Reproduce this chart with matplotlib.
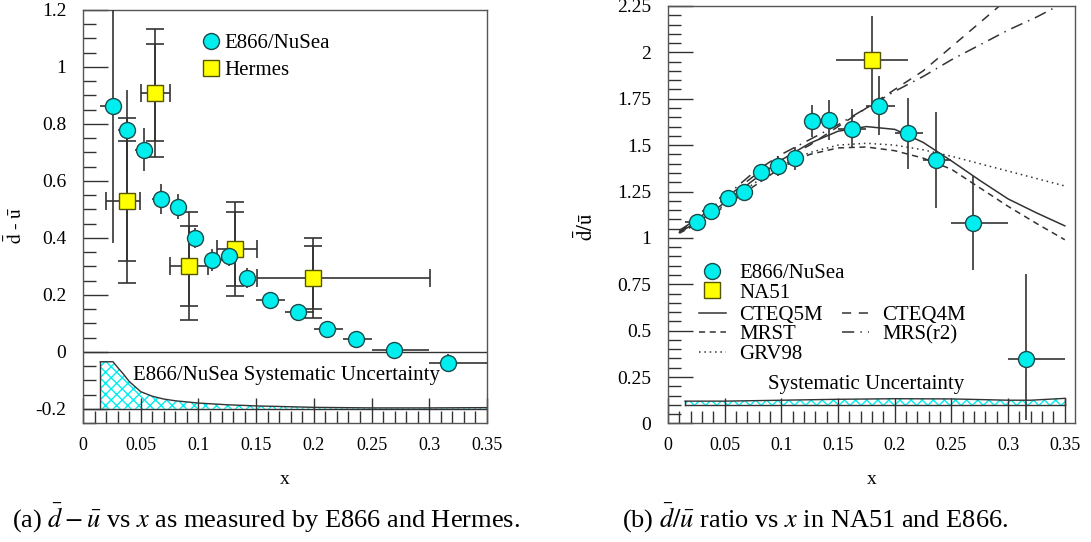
import matplotlib
matplotlib.use("Agg")
import matplotlib.pyplot as plt
from matplotlib.lines import Line2D
from matplotlib.ticker import MultipleLocator, FuncFormatter
import numpy as np

plt.rcParams['font.family'] = ['Liberation Serif', 'DejaVu Serif']
plt.rcParams['mathtext.fontset'] = 'stix'

# E866/NuSea x bins
x_e866 = [0.0257, 0.0378, 0.0525, 0.0673, 0.0821, 0.0971, 0.1119, 0.1268,
          0.1421, 0.1619, 0.1865, 0.2115, 0.2368, 0.2692, 0.3162]
x_e866_lo = [0.015, 0.030, 0.045, 0.060, 0.075, 0.090, 0.105, 0.120,
             0.135, 0.150, 0.175, 0.200, 0.225, 0.250, 0.300]
x_e866_hi = [0.030, 0.045, 0.060, 0.075, 0.090, 0.105, 0.120, 0.135,
             0.150, 0.175, 0.200, 0.225, 0.250, 0.300, 0.350]

# (a) dbar - ubar
dmu = [0.863, 0.779, 0.709, 0.536, 0.510, 0.399, 0.323, 0.337,
       0.260, 0.181, 0.141, 0.081, 0.045, 0.006, -0.039]
dmu_err = [0.48, 0.14, 0.076, 0.053, 0.044, 0.035, 0.038, 0.035,
           0.035, 0.02, 0.02, 0.015, 0.015, 0.015, 0.033]

x_hermes = [0.0381, 0.0622, 0.0920, 0.1317, 0.1990]
x_hermes_lo = [0.0203, 0.0506, 0.0752, 0.1158, 0.1506]
x_hermes_hi = [0.0490, 0.0752, 0.1085, 0.1506, 0.3007]
hermes = [0.530, 0.910, 0.301, 0.361, 0.260]
hermes_stat = [0.21, 0.17, 0.14, 0.13, 0.11]
hermes_tot = [0.29, 0.225, 0.19, 0.165, 0.14]

sys_a_x = [0.015, 0.026, 0.030, 0.035, 0.040, 0.050, 0.060, 0.070, 0.080,
           0.100, 0.125, 0.150, 0.200, 0.250, 0.300, 0.350]
sys_a_top = [-0.035, -0.035, -0.055, -0.078, -0.104, -0.140, -0.156, -0.166,
             -0.172, -0.180, -0.186, -0.190, -0.195, -0.197, -0.197, -0.196]

# (b) dbar / ubar
ratio = [1.087, 1.144, 1.216, 1.248, 1.356, 1.387, 1.428, 1.631,
         1.635, 1.588, 1.712, 1.563, 1.419, 1.081, 0.349]
ratio_err_lo = [0.041, 0.045, 0.040, 0.045, 0.041, 0.056, 0.063, 0.085,
                0.11, 0.105, 0.16, 0.19, 0.26, 0.255, 0.33]
ratio_err_hi = [0.041, 0.045, 0.040, 0.045, 0.041, 0.056, 0.063, 0.085,
                0.11, 0.105, 0.16, 0.19, 0.26, 0.255, 0.455]

x_na51 = [0.180]
x_na51_lo = [0.148]
x_na51_hi = [0.212]
na51 = [1.958]
na51_err = [0.24]

x_pdf = [0.010, 0.030, 0.050, 0.075, 0.100, 0.125, 0.150, 0.175, 0.200,
         0.225, 0.250, 0.275, 0.300, 0.325, 0.350]
cteq5m = [1.030, 1.100, 1.190, 1.310, 1.420, 1.510, 1.575, 1.600, 1.585,
          1.515, 1.415, 1.310, 1.210, 1.135, 1.065]
cteq4m = [1.035, 1.110, 1.210, 1.330, 1.420, 1.500, 1.600, 1.700, 1.800,
          1.900, 2.030, 2.160, 2.290, 2.450, 2.620]
mrst = [1.025, 1.090, 1.170, 1.275, 1.380, 1.450, 1.485, 1.490, 1.470,
        1.430, 1.370, 1.270, 1.170, 1.078, 0.990]
mrs_r2 = [1.040, 1.120, 1.220, 1.350, 1.450, 1.530, 1.610, 1.700, 1.790,
          1.870, 1.960, 2.040, 2.120, 2.190, 2.270]
grv98 = [1.030, 1.090, 1.180, 1.290, 1.390, 1.460, 1.500, 1.510, 1.500,
         1.475, 1.440, 1.400, 1.360, 1.320, 1.280]

sys_b_x = [0.015, 0.050, 0.100, 0.150, 0.200, 0.250, 0.300, 0.320, 0.350]
sys_b_top = [0.120, 0.120, 0.125, 0.130, 0.133, 0.132, 0.125, 0.125, 0.135]
sys_b_base = 0.10

cyan = '#00EEEE'
ink = '#333333'


def style_axes(ax, ymajor, yminor):
    ax.xaxis.set_major_locator(MultipleLocator(0.05))
    ax.xaxis.set_minor_locator(MultipleLocator(0.01))
    ax.yaxis.set_major_locator(MultipleLocator(ymajor))
    ax.yaxis.set_minor_locator(MultipleLocator(yminor))
    fmt = FuncFormatter(lambda v, p: '%g' % round(v, 3))
    ax.xaxis.set_major_formatter(fmt)
    ax.yaxis.set_major_formatter(fmt)
    ax.tick_params(which='both', direction='in', top=False, right=False,
                   color=ink, width=1)
    ax.tick_params(which='major', length=18)
    ax.tick_params(which='minor', length=9)
    ax.tick_params(axis='x', labelsize=13, pad=10)
    ax.tick_params(axis='y', labelsize=14, pad=12)
    for s in ax.spines.values():
        s.set_color('#555555')
        s.set_linewidth(1)


fig = plt.figure(figsize=(10.91, 5.42), dpi=100)

# ---------------- (a) ----------------
axa = fig.add_axes([83 / 1091, 1 - 423 / 542, 404 / 1091, 413 / 542])
axa.set_xlim(0, 0.35)
axa.set_ylim(-0.25, 1.2)
style_axes(axa, 0.2, 0.05)

axa.axhline(0, color=ink, lw=1)
axa.axhline(-0.2, color=ink, lw=1)
axa.fill_between(sys_a_x, -0.2, sys_a_top, facecolor='none', edgecolor=cyan,
                 hatch='xxx', linewidth=0)
axa.plot(sys_a_x, sys_a_top, color=ink, lw=1)
axa.plot([sys_a_x[0], sys_a_x[0]], [-0.2, sys_a_top[0]], color=ink, lw=1)
axa.text(0.043, -0.083, 'E866/NuSea Systematic Uncertainty', fontsize=15,
         va='center', ha='left')

xe_a = [np.subtract(x_e866, x_e866_lo), np.subtract(x_e866_hi, x_e866)]
xe_h = [np.subtract(x_hermes, x_hermes_lo), np.subtract(x_hermes_hi, x_hermes)]

axa.errorbar(x_hermes, hermes, yerr=hermes_tot, fmt='none', ecolor=ink,
             elinewidth=1.2, capsize=6.5, capthick=1.2, zorder=3)
axa.errorbar(x_hermes, hermes, yerr=hermes_stat, xerr=xe_h, fmt='none',
             ecolor=ink, elinewidth=1.2, capsize=6.5, capthick=1.2, zorder=3)
axa.errorbar(x_e866, dmu, yerr=dmu_err, xerr=xe_a, fmt='none', ecolor=ink,
             elinewidth=1.2, capsize=0, zorder=3)
axa.plot(x_hermes, hermes, 's', ms=11, mfc='#FFFF00', mec='#555500',
         mew=1, zorder=4)
axa.plot(x_e866, dmu, 'o', ms=11.5, mfc=cyan, mec='#1a4a4a', mew=1,
         zorder=5)

h_e866 = Line2D([], [], ls='none', marker='o', ms=11.5, mfc=cyan,
                mec='#1a4a4a', mew=1)
h_herm = Line2D([], [], ls='none', marker='s', ms=11, mfc='#FFFF00',
                mec='#555500', mew=1)
axa.legend([h_e866, h_herm], ['E866/NuSea', 'Hermes'], loc='upper left',
           bbox_to_anchor=(0.27, 0.968), frameon=False, fontsize=15,
           handlelength=0.8, handletextpad=0.25, labelspacing=0.35,
           borderpad=0)

axa.set_ylabel(r'$\mathrm{\bar{d}}$ - $\mathrm{\bar{u}}$', fontsize=14)
axa.yaxis.set_label_coords(-0.14, 0.48)
axa.set_xlabel('x', fontsize=14, labelpad=12)

# ---------------- (b) ----------------
axb = fig.add_axes([668 / 1091, 1 - 423.4 / 542, 407 / 1091, 417.4 / 542])
axb.set_xlim(0, 0.359)
axb.set_ylim(0, 2.25)
style_axes(axb, 0.25, 0.05)

axb.fill_between(sys_b_x, sys_b_base, sys_b_top, facecolor='none',
                 edgecolor=cyan, hatch='xxx', linewidth=0)
axb.plot(sys_b_x, sys_b_top, color=ink, lw=1)
axb.plot([sys_b_x[0], sys_b_x[-1]], [sys_b_base, sys_b_base], color=ink, lw=1)
axb.plot([sys_b_x[0], sys_b_x[0]], [sys_b_base, sys_b_top[0]], color=ink, lw=1)
axb.plot([sys_b_x[-1], sys_b_x[-1]], [sys_b_base, sys_b_top[-1]], color=ink, lw=1)
axb.text(0.1745, 0.21, 'Systematic Uncertainty', fontsize=15,
         va='center', ha='center')

styles = {
    'CTEQ5M': ('-', cteq5m),
    'CTEQ4M': ((0, (6, 5)), cteq4m),
    'MRST': ((0, (4, 3)), mrst),
    'MRS(r2)': ((0, (8, 4, 1, 4)), mrs_r2),
    'GRV98': ((0, (1, 2.5)), grv98),
}
curve_handles = {}
for name, (ls, vals) in styles.items():
    ln, = axb.plot(x_pdf, vals, ls=ls, color=ink, lw=1.1, zorder=2)
    curve_handles[name] = ln

xe_b = [np.subtract(x_e866, x_e866_lo), np.subtract(x_e866_hi, x_e866)]
axb.errorbar(x_na51, na51, yerr=na51_err,
             xerr=[np.subtract(x_na51, x_na51_lo), np.subtract(x_na51_hi, x_na51)],
             fmt='none', ecolor=ink, elinewidth=1.2, capsize=0, zorder=3)
axb.errorbar(x_e866, ratio, yerr=[ratio_err_lo, ratio_err_hi], xerr=xe_b,
             fmt='none', ecolor=ink, elinewidth=1.2, capsize=0, zorder=3)
axb.plot(x_na51, na51, 's', ms=11, mfc='#FFFF00', mec='#555500', mew=1,
         zorder=4)
axb.plot(x_e866, ratio, 'o', ms=11.5, mfc=cyan, mec='#1a4a4a', mew=1,
         zorder=5)

h_na51 = Line2D([], [], ls='none', marker='s', ms=11, mfc='#FFFF00',
                mec='#555500', mew=1)
leg1 = axb.legend([h_e866, h_na51], ['E866/NuSea', 'NA51'], loc='upper left',
                  bbox_to_anchor=(0.05, 0.408), frameon=False, fontsize=15,
                  handlelength=1.3, handletextpad=0.65, labelspacing=0.0,
                  borderpad=0)
axb.add_artist(leg1)
order = ['CTEQ5M', 'MRST', 'GRV98', 'CTEQ4M', 'MRS(r2)']
axb.legend([curve_handles[k] for k in order], order, loc='upper left',
           bbox_to_anchor=(0.05, 0.308), frameon=False, fontsize=15, ncol=2,
           handlelength=1.3, handletextpad=0.65, labelspacing=0.0,
           columnspacing=0.9, borderpad=0)

axb.set_ylabel(r'$\mathrm{\bar{d}/\bar{u}}$', fontsize=15)
axb.yaxis.set_label_coords(-0.172, 0.47)
axb.set_xlabel('x', fontsize=14, labelpad=12)

fig.text(266 / 1091, 1 - 518 / 542,
         r'(a) $\bar{d}-\bar{u}$ vs $x$ as measured by E866 and Hermes.',
         fontsize=19, ha='center', va='center')
fig.text(815 / 1091, 1 - 518 / 542,
         r'(b) $\bar{d}/\bar{u}$ ratio vs $x$ in NA51 and E866.',
         fontsize=19, ha='center', va='center')

fig.savefig('out.png', dpi=100)
